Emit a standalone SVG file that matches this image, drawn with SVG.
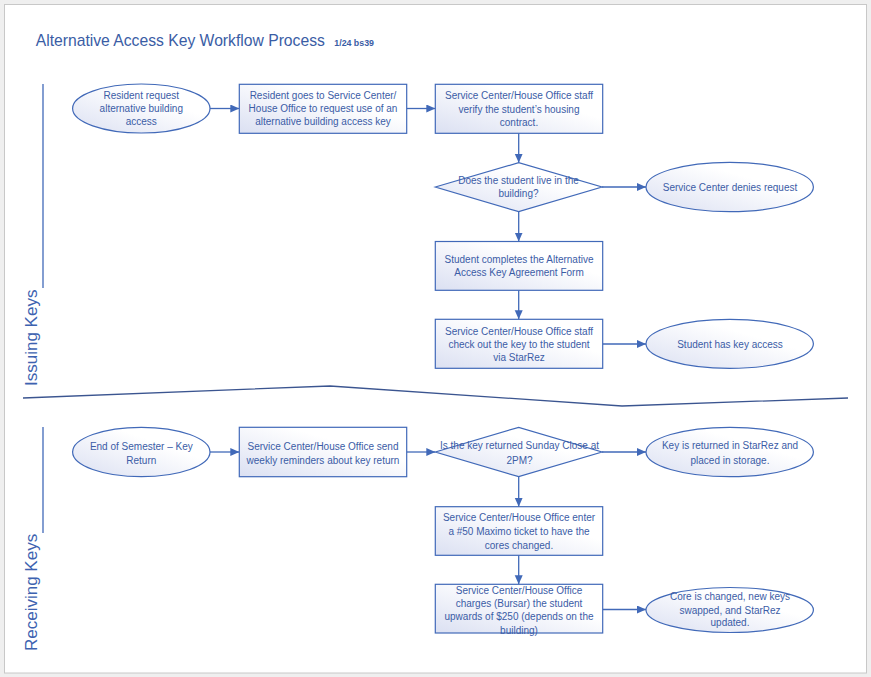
<svg xmlns="http://www.w3.org/2000/svg" width="871" height="677" viewBox="0 0 871 677">
<style>
.shape{fill:url(#g);stroke:#4169b8;stroke-width:1.2}
.t{font-family:"Liberation Sans",Arial,sans-serif;font-size:10px;fill:#3b5ca6;text-anchor:middle;dominant-baseline:central}
.c{fill:none;stroke:#4169b8;stroke-width:1.3;marker-end:url(#ah)}
.lane{fill:none;stroke:#4169b8;stroke-width:1.3}
.lanet{font-family:"Liberation Sans",Arial,sans-serif;font-size:17px;fill:#3d62b0}
</style>
<defs>
<linearGradient id="g" x1="0" y1="1" x2="1" y2="0">
<stop offset="0" stop-color="#dbe0f2"/>
<stop offset="0.65" stop-color="#ffffff"/>
</linearGradient>
<marker id="ah" markerUnits="userSpaceOnUse" markerWidth="10" markerHeight="9" refX="9" refY="4" orient="auto">
<path d="M0,0 L9,4 L0,8 z" fill="#4169b8"/>
</marker>
</defs>
<rect x="0" y="0" width="871" height="677" fill="#efefef"/>
<rect x="4.5" y="4.5" width="862" height="668.5" fill="#ffffff" stroke="#c8c8c8" stroke-width="1"/>
<g id="title">
<text x="35.7" y="45.7" font-family="'Liberation Sans',Arial,sans-serif" font-size="15.7" fill="#3a5da5">Alternative Access Key Workflow Process</text>
<text x="334.3" y="45.7" font-family="'Liberation Sans',Arial,sans-serif" font-size="8.8" font-weight="bold" fill="#3a5da5">1/24 bs39</text>
</g>
<g id="lanes">
<line class="lane" x1="43" y1="84" x2="43" y2="288"/>
<text class="lanet" transform="translate(37,386) rotate(-90)">Issuing Keys</text>
<line class="lane" x1="43" y1="427" x2="43" y2="533"/>
<text class="lanet" transform="translate(37,651) rotate(-90)">Receiving Keys</text>
<polyline points="23,398 330,386 622,406 848,398" fill="none" stroke="#3b5590" stroke-width="1.3"/>
</g>
<g id="connectors">
<line class="c" x1="210" y1="108.5" x2="239.3" y2="108.5"/>
<line class="c" x1="406.7" y1="108.5" x2="435.3" y2="108.5"/>
<line class="c" x1="518.7" y1="133.3" x2="518.7" y2="162.7"/>
<line class="c" x1="602" y1="187" x2="646" y2="187"/>
<line class="c" x1="518.7" y1="211.7" x2="518.7" y2="241.5"/>
<line class="c" x1="518.7" y1="290.3" x2="518.7" y2="319.3"/>
<line class="c" x1="602.7" y1="344" x2="646" y2="344"/>
<line class="c" x1="210" y1="452" x2="239.3" y2="452"/>
<line class="c" x1="406.7" y1="452" x2="435.3" y2="452"/>
<line class="c" x1="602" y1="452" x2="646" y2="452"/>
<line class="c" x1="518.7" y1="476.7" x2="518.7" y2="506.7"/>
<line class="c" x1="518.7" y1="555.3" x2="518.7" y2="584.3"/>
<line class="c" x1="602.7" y1="609.5" x2="646" y2="609.5"/>
</g>
<g id="n1">
<ellipse class="shape" cx="141.3" cy="108.5" rx="68.7" ry="24.5"/>
<text class="t" x="141.3" y="95.7">Resident request</text>
<text class="t" x="141.3" y="108.5">alternative building</text>
<text class="t" x="141.3" y="121.5">access</text>
</g>
<g id="n2">
<rect class="shape" x="239.3" y="84.3" width="167.4" height="49"/>
<text class="t" x="323" y="95.8">Resident goes to Service Center/</text>
<text class="t" x="323" y="108.8">House Office to request use of an</text>
<text class="t" x="323" y="121.8">alternative building access key</text>
</g>
<g id="n3">
<rect class="shape" x="435.3" y="84.3" width="167.4" height="49"/>
<text class="t" x="519" y="95.7">Service Center/House Office staff</text>
<text class="t" x="519" y="109">verify the student’s housing</text>
<text class="t" x="519" y="122.3">contract.</text>
</g>
<g id="n4">
<polygon class="shape" points="435.3,187 518.7,162.7 602,187 518.7,211.7"/>
<text class="t" x="518.5" y="180">Does the student live in the</text>
<text class="t" x="518.5" y="193.3">building?</text>
</g>
<g id="n5">
<ellipse class="shape" cx="729.7" cy="187" rx="83.7" ry="24.7"/>
<text class="t" x="730" y="187.5">Service Center denies request</text>
</g>
<g id="n6">
<rect class="shape" x="435.3" y="241.5" width="167.4" height="48.8"/>
<text class="t" x="519" y="259.3">Student completes the Alternative</text>
<text class="t" x="519" y="272.7">Access Key Agreement Form</text>
</g>
<g id="n7">
<rect class="shape" x="435.3" y="319.3" width="167.4" height="49"/>
<text class="t" x="519" y="331">Service Center/House Office staff</text>
<text class="t" x="519" y="344.3">check out the key to the student</text>
<text class="t" x="519" y="357.7">via StarRez</text>
</g>
<g id="n8">
<ellipse class="shape" cx="729.7" cy="343.8" rx="83.7" ry="24.5"/>
<text class="t" x="730" y="344.7">Student has key access</text>
</g>
<g id="n9">
<ellipse class="shape" cx="141.3" cy="452" rx="68.7" ry="24.7"/>
<text class="t" x="141.3" y="446">End of Semester – Key</text>
<text class="t" x="141.3" y="460">Return</text>
</g>
<g id="n10">
<rect class="shape" x="239.3" y="427.3" width="167.4" height="49.4"/>
<text class="t" x="323" y="446">Service Center/House Office send</text>
<text class="t" x="323" y="460">weekly reminders about key return</text>
</g>
<g id="n11">
<polygon class="shape" points="435.3,452 518.7,427.3 602,452 518.7,476.7"/>
<text class="t" x="519.5" y="445.7">Is the key returned Sunday Close at</text>
<text class="t" x="519.5" y="460">2PM?</text>
</g>
<g id="n12">
<ellipse class="shape" cx="729.7" cy="452" rx="83.7" ry="24.7"/>
<text class="t" x="730" y="445.7">Key is returned in StarRez and</text>
<text class="t" x="730" y="460">placed in storage.</text>
</g>
<g id="n13">
<rect class="shape" x="435.3" y="506.7" width="167.4" height="48.6"/>
<text class="t" x="519" y="517.7">Service Center/House Office enter</text>
<text class="t" x="519" y="531.7">a #50 Maximo ticket to have the</text>
<text class="t" x="519" y="545">cores changed.</text>
</g>
<g id="n14">
<rect class="shape" x="435.3" y="584.3" width="167.4" height="48.7"/>
<text class="t" x="519" y="590">Service Center/House Office</text>
<text class="t" x="519" y="603.3">charges (Bursar) the student</text>
<text class="t" x="519" y="616.7">upwards of $250 (depends on the</text>
<text class="t" x="519" y="630">building)</text>
</g>
<g id="n15">
<ellipse class="shape" cx="729.7" cy="610" rx="83.7" ry="22.5"/>
<text class="t" x="730" y="596.7">Core is changed, new keys</text>
<text class="t" x="730" y="610">swapped, and StarRez</text>
<text class="t" x="730" y="622.3">updated.</text>
</g>
</svg>
